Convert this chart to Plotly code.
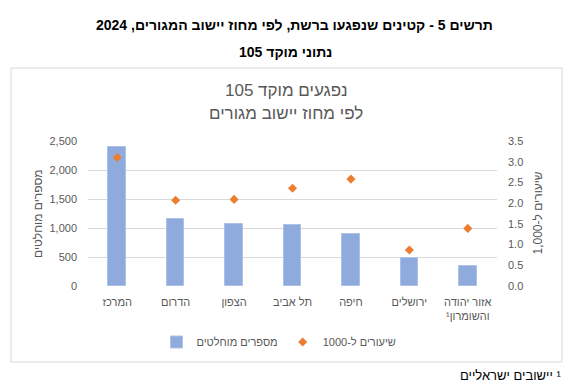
import plotly.graph_objects as go

RLE, PDF = "\u202b", "\u202c"
def rtl(s):
    return RLE + s + PDF

categories = ["המרכז", "הדרום", "הצפון", "תל אביב", "חיפה", "ירושלים", "אזור יהודה|והשומרון¹"]
counts = [2390, 1150, 1070, 1045, 890, 475, 340]
rates = [3.10, 2.07, 2.09, 2.36, 2.58, 0.87, 1.39]
left_ticks = [0, 500, 1000, 1500, 2000, 2500]
right_ticks = [0, 0.5, 1.0, 1.5, 2.0, 2.5, 3.0, 3.5]

cat_labels = ["<br>".join(rtl(p) for p in c.split("|")) for c in categories]

W, H = 580, 386
L, R, T, B = 88, 83, 141, 100
PW, PH = W - L - R, H - T - B
def px(x):
    return (x - L) / PW
def py(y):
    return (H - B - y) / PH

FONT = "Liberation Sans, Arial, sans-serif"
GRAY = "#595959"

fig = go.Figure()
fig.add_trace(go.Bar(
    x=cat_labels, y=counts, name=rtl("מספרים מוחלטים"),
    marker=dict(color="#8faadc", line=dict(color="#adc2e6", width=1)),
    width=0.3, yaxis="y",
))
fig.add_trace(go.Scatter(
    x=cat_labels, y=rates, name=rtl("שיעורים ל-1000"), mode="markers",
    marker=dict(symbol="diamond", size=7, color="#ed7d31"),
    yaxis="y2",
))

fig.update_layout(
    width=W, height=H,
    margin=dict(l=L, r=R, t=T, b=B, pad=0, autoexpand=False),
    paper_bgcolor="white", plot_bgcolor="white",
    font=dict(family=FONT, size=11, color=GRAY),
    showlegend=True,
    legend=dict(orientation="h", x=px(279), xanchor="center", y=py(342), yanchor="middle",
                font=dict(size=11, color=GRAY), itemwidth=30, tracegroupgap=0),
    xaxis=dict(showgrid=False, showline=False, zeroline=False, ticks="",
               tickfont=dict(size=11, color=GRAY), ticklabelstandoff=8),
    yaxis=dict(range=[0, 2500], tickvals=left_ticks, tickformat=",", showgrid=True,
               gridcolor="#d9d9d9", gridwidth=1, zeroline=False, showline=False,
               tickfont=dict(size=11, color=GRAY), ticklabelstandoff=10),
    yaxis2=dict(range=[0, 3.5], tickvals=right_ticks, tickformat=".1f", overlaying="y",
                side="right", showgrid=False, zeroline=False, showline=False,
                tickfont=dict(size=11, color=GRAY), ticklabelstandoff=10),
    bargap=0,
)

shapes = [dict(type="rect", xref="paper", yref="paper", x0=px(11), x1=px(562),
               y0=py(362), y1=py(68), line=dict(color="#d9d9d9", width=1), layer="below")]
fig.update_layout(shapes=shapes)

ann = [
    dict(text="<b>" + rtl("תרשים 5 - קטינים שנפגעו ברשת, לפי מחוז יישוב המגורים, 2024") + "</b>",
         x=px(294), y=py(25), font=dict(size=14, color="black")),
    dict(text="<b>" + rtl("נתוני מוקד 105") + "</b>",
         x=px(285), y=py(52), font=dict(size=14, color="black")),
    dict(text=rtl("נפגעים מוקד 105"), x=px(286.5), y=py(90), font=dict(size=17, color=GRAY)),
    dict(text=rtl("לפי מחוז יישוב מגורים"), x=px(286), y=py(113), font=dict(size=17, color=GRAY)),
    dict(text=rtl("מספרים מוחלטים"), x=px(37.5), y=py(213.5), textangle=-90,
         font=dict(size=12, color=GRAY)),
    dict(text=rtl("שיעורים ל-1,000"), x=px(537), y=py(213.5), textangle=-90,
         font=dict(size=12, color=GRAY)),
    dict(text=rtl("¹ יישובים ישראליים"), x=px(563), y=py(375), xanchor="right",
         font=dict(size=13, color="black")),
]
for a in ann:
    a.setdefault("xanchor", "center")
    a.update(xref="paper", yref="paper", yanchor="middle", showarrow=False)
fig.update_layout(annotations=ann)

fig.write_html(
    "out.html",
    config={"displayModeBar": False},
    post_script="document.body.style.margin='0px';document.body.style.overflow='hidden';",
)
